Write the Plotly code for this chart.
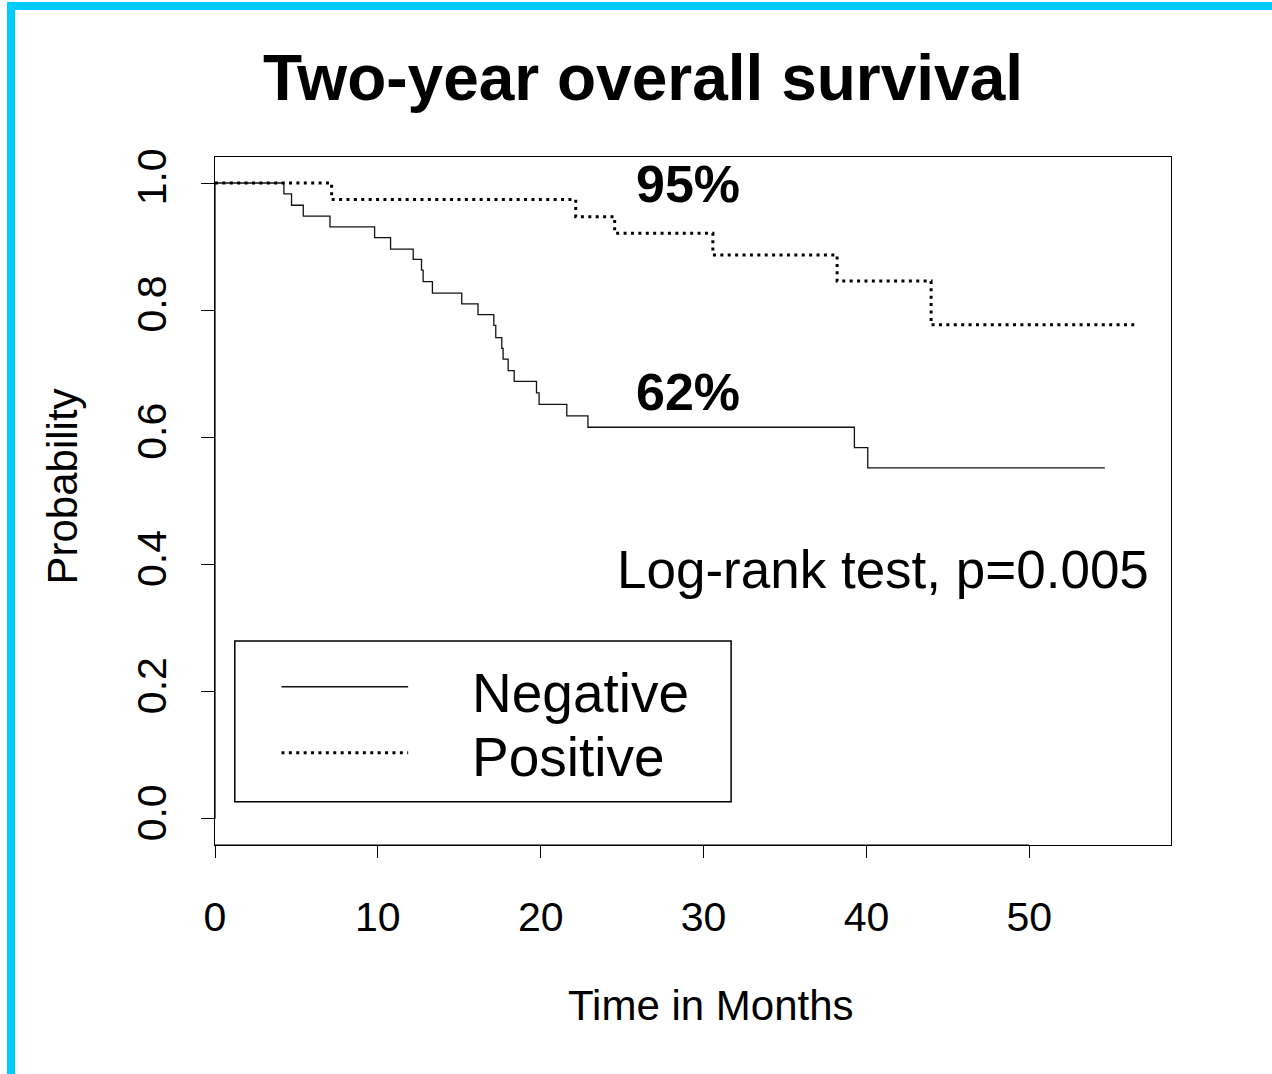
import plotly.graph_objects as go

# ---------------- data ----------------
neg_time = [0, 4.23, 4.70, 5.42, 7.06, 9.80, 10.78, 12.17, 12.68, 12.78, 13.35,
            15.15, 16.15, 17.12, 17.24, 17.61, 17.69, 18.00, 18.37, 19.74, 19.90,
            21.60, 22.90, 39.26, 40.08, 54.64]
neg_surv = [1.0, 0.983, 0.965, 0.948, 0.931, 0.914, 0.896, 0.880, 0.863, 0.845, 0.827,
            0.810, 0.793, 0.776, 0.757, 0.740, 0.723, 0.705, 0.688, 0.670, 0.652,
            0.634, 0.616, 0.584, 0.552, 0.552]

pos_time = [0, 7.16, 22.15, 24.54, 30.57, 38.20, 43.97, 56.44]
pos_surv = [1.0, 0.974, 0.947, 0.921, 0.887, 0.846, 0.777, 0.777]

series_names = ["Negative", "Positive"]
x_ticks = [0, 10, 20, 30, 40, 50]
y_ticks = [0.0, 0.2, 0.4, 0.6, 0.8, 1.0]

title_text = "Two-year overall survival"
x_title = "Time in Months"
y_title = "Probability"
pct_labels = ["95%", "62%"]
test_text = "Log-rank test, p=0.005"

FONT = "Liberation Sans, Arial, sans-serif"
W, H = 1272, 1074
L, R, T, B = 215, 1171, 157, 845  # plot area in pixels


def px_x(p):
    return (p - L) / (R - L)


def px_y(p):
    return (B - p) / (B - T)


fig = go.Figure()

fig.add_trace(go.Scatter(
    x=neg_time, y=neg_surv, mode="lines", name=series_names[0],
    line=dict(color="#111111", width=1.3, shape="hv"), showlegend=False))
fig.add_trace(go.Scatter(
    x=pos_time, y=pos_surv, mode="lines", name=series_names[1],
    line=dict(color="#000000", width=3, shape="hv", dash="3px,4.4px"),
    showlegend=False))

annotations = []
# title
annotations.append(dict(text="<b>%s</b>" % title_text, x=px_x(642.5), y=px_y(77.5),
                        xref="paper", yref="paper", showarrow=False,
                        xanchor="center", yanchor="middle",
                        font=dict(family=FONT, size=64, color="black")))
# axis titles
annotations.append(dict(text=x_title, x=px_x(711), y=px_y(1005),
                        xref="paper", yref="paper", showarrow=False,
                        xanchor="center", yanchor="middle",
                        font=dict(family=FONT, size=42, color="black")))
annotations.append(dict(text=y_title, x=px_x(62), y=px_y(486.5),
                        xref="paper", yref="paper", showarrow=False, textangle=-90,
                        xanchor="center", yanchor="middle",
                        font=dict(family=FONT, size=42, color="black")))
# percentage labels
annotations.append(dict(text="<b>%s</b>" % pct_labels[0], x=29.06, y=0.998,
                        xref="x", yref="y", showarrow=False,
                        xanchor="center", yanchor="middle",
                        font=dict(family=FONT, size=52, color="black")))
annotations.append(dict(text="<b>%s</b>" % pct_labels[1], x=29.06, y=0.672,
                        xref="x", yref="y", showarrow=False,
                        xanchor="center", yanchor="middle",
                        font=dict(family=FONT, size=52, color="black")))
# test text
annotations.append(dict(text=test_text, x=57.45, y=0.392,
                        xref="x", yref="y", showarrow=False,
                        xanchor="right", yanchor="middle",
                        font=dict(family=FONT, size=53, color="black")))
# legend text
annotations.append(dict(text=series_names[0], x=15.65, y=0.198,
                        xref="x", yref="y", showarrow=False,
                        xanchor="left", yanchor="middle",
                        font=dict(family=FONT, size=55, color="black")))
annotations.append(dict(text=series_names[1], x=15.65, y=0.0971,
                        xref="x", yref="y", showarrow=False,
                        xanchor="left", yanchor="middle",
                        font=dict(family=FONT, size=55, color="black")))

shapes = []
# legend box and sample lines
shapes.append(dict(type="rect", xref="x", yref="y", x0=1.215, x1=31.69, y0=0.0272, y1=0.2797,
                   line=dict(color="black", width=1.5), fillcolor="rgba(0,0,0,0)"))
shapes.append(dict(type="line", xref="x", yref="y", x0=4.08, x1=11.86, y0=0.2079, y1=0.2079,
                   line=dict(color="#111111", width=1.3)))
shapes.append(dict(type="line", xref="x", yref="y", x0=4.08, x1=11.86, y0=0.1042, y1=0.1042,
                   line=dict(color="black", width=3, dash="3px,4.4px")))
# R-style axis segments (first to last tick) overlapping the box
shapes.append(dict(type="line", xref="x", yref="paper", x0=x_ticks[0], x1=x_ticks[-1], y0=0, y1=0,
                   line=dict(color="black", width=1.2)))
shapes.append(dict(type="line", xref="paper", yref="y", x0=0, x1=0, y0=y_ticks[0], y1=y_ticks[-1],
                   line=dict(color="black", width=1.2)))
# cyan page border (top and left)
shapes.append(dict(type="rect", xref="paper", yref="paper",
                   x0=px_x(7), x1=px_x(W + 5), y0=px_y(10), y1=px_y(2),
                   line=dict(width=0), fillcolor="#00CCFF", layer="above"))
shapes.append(dict(type="rect", xref="paper", yref="paper",
                   x0=px_x(7), x1=px_x(15), y0=px_y(H + 5), y1=px_y(2),
                   line=dict(width=0), fillcolor="#00CCFF", layer="above"))

fig.update_layout(
    width=W, height=H,
    margin=dict(l=L, r=W - R, t=T, b=H - B, pad=0),
    paper_bgcolor="white", plot_bgcolor="white",
    showlegend=False,
    annotations=annotations,
    shapes=shapes,
    font=dict(family=FONT, color="black"),
)

fig.update_xaxes(
    range=[0, 58.7], tickvals=x_ticks, ticktext=[str(v) for v in x_ticks],
    showgrid=False, zeroline=False, showline=True, mirror=True,
    linecolor="black", linewidth=1.3,
    ticks="outside", ticklen=12, tickwidth=1, tickcolor="black",
    tickfont=dict(family=FONT, size=41, color="black"),
    ticklabelstandoff=23,
)
fig.update_yaxes(
    range=[-0.0409, 1.0409], tickvals=y_ticks, ticktext=["%.1f" % v for v in y_ticks],
    showgrid=False, zeroline=False, showline=True, mirror=True,
    linecolor="black", linewidth=1.3,
    ticks="outside", ticklen=13, tickwidth=1, tickcolor="black",
    tickangle=-90,
    tickfont=dict(family=FONT, size=41, color="black"),
    ticklabelstandoff=18,
)

fig.write_html("out.html",
               config={"displayModeBar": False, "staticPlot": True},
               post_script="document.body.style.margin='0';document.body.style.padding='0';")
